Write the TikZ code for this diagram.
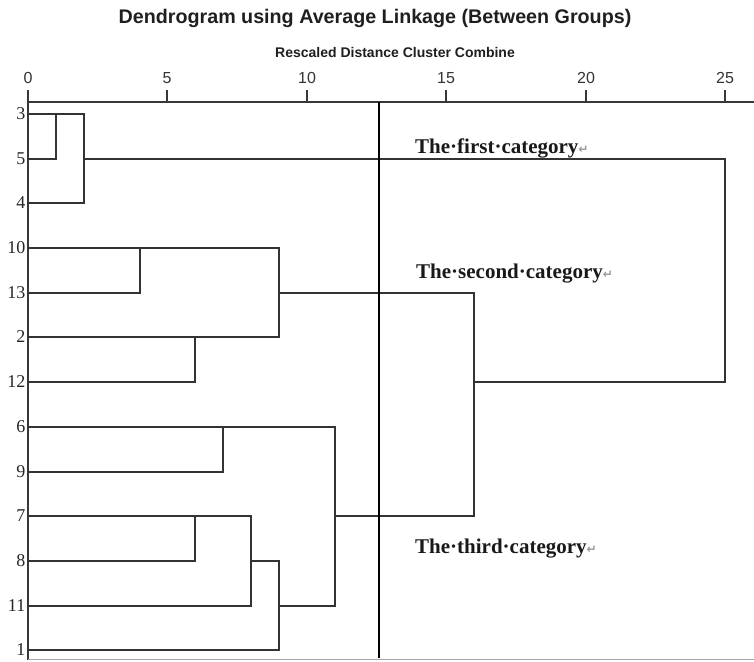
\documentclass[tikz,border=0pt]{standalone}
\usepackage{fontspec}
\setmainfont{Liberation Serif}
\setsansfont{Liberation Sans}
\newfontfamily\retfont{DejaVu Sans}
\newcommand{\retsign}{\textcolor{black!40}{\retfont\fontsize{12}{12}\selectfont ↵}}
\begin{document}
\begin{tikzpicture}[x=1pt,y=-1pt,
  link/.style={draw=black!80,line width=1.7pt,line cap=rect},
  axisline/.style={draw=black!78,line width=1.7pt},
  cutline/.style={draw=black,line width=2.5pt},
  leaflabel/.style={anchor=east,inner sep=0pt,font=\fontsize{18}{18}\selectfont,text=black!85},
  ticklabel/.style={anchor=base,inner sep=0pt,font=\sffamily\fontsize{16}{16}\selectfont,text=black!80},
  catlabel/.style={anchor=base west,inner sep=0pt,font=\bfseries\fontsize{21}{21}\selectfont,text=black!90}
]
\useasboundingbox (0,0) rectangle (754,661);

% titles
\node[anchor=base,inner sep=0pt,font=\sffamily\bfseries\fontsize{19.7}{20}\selectfont,text=black!88]
  (title) at (375,24) {Dendrogram using Average Linkage (Between Groups)};
\node[anchor=base,inner sep=0pt,font=\sffamily\bfseries\fontsize{14}{14}\selectfont,text=black!88]
  (subtitle) at (395,58) {Rescaled Distance Cluster Combine};

% distance positions on the scale (snapped to whole units)
\foreach \d in {0,1,2,4,5,6,7,8,9,10,11,15,16,20,25}
  \coordinate (x\d) at ({round(28+27.9*\d)},102);

% axis with ticks
\coordinate (axisend) at (754,102);
\draw[axisline] (x0) -- (axisend);
\foreach \d in {0,5,10,15,20,25} {
  \draw[axisline] (x\d) -- ++(0,-12);
  \node[ticklabel] (t\d) at ([yshift=19pt]x\d) {\d};
}

% leaf rows
\foreach \n [count=\i from 0] in {3,5,4,10,13,2,12,6,9,7,8,11,1} {
  \coordinate (r\n) at (28,{round(114+44.7*\i)});
  \node[leaflabel] (lab\n) at (25.5,{round(114+44.7*\i)}) {\n};
}

% left frame line and bottom rule
\coordinate (lefttop) at (28,90);
\coordinate (leftbot) at (28,659.5);
\coordinate (botend) at (754,659.5);
\draw[axisline] (lefttop) -- (leftbot);
\draw[draw=black!35,line width=1pt] (leftbot) -- (botend);

% cluster 3,5,4
\draw[link] (r3) -- (r3 -| x2);
\draw[link] (r5) -- (r5 -| x1) -- (r3 -| x1);
\draw[link] (r4) -- (r4 -| x2) -- (r3 -| x2);
\draw[link] (r5 -| x2) -- (r5 -| x25);

% cluster 10,13,2,12
\draw[link] (r10) -- (r10 -| x9);
\draw[link] (r13) -- (r13 -| x4) -- (r10 -| x4);
\draw[link] (r2) -- (r2 -| x9) -- (r10 -| x9);
\draw[link] (r12) -- (r12 -| x6) -- (r2 -| x6);
\draw[link] (r13 -| x9) -- (r13 -| x16);

% cluster 6,9,7,8,11,1
\draw[link] (r6) -- (r6 -| x11) -- (r11 -| x11);
\draw[link] (r9) -- (r9 -| x7) -- (r6 -| x7);
\draw[link] (r7) -- (r7 -| x8);
\draw[link] (r8) -- (r8 -| x6) -- (r7 -| x6);
\draw[link] (r11) -- (r11 -| x8) -- (r7 -| x8);
\draw[link] (r8 -| x8) -- (r8 -| x9);
\draw[link] (r1) -- (r1 -| x9) -- (r8 -| x9);
\draw[link] (r11 -| x9) -- (r11 -| x11);
\draw[link] (r7 -| x11) -- (r7 -| x16);

% upper joins
\draw[link] (r13 -| x16) -- (r7 -| x16);
\draw[link] (r12 -| x16) -- (r12 -| x25);
\draw[link] (r5 -| x25) -- (r12 -| x25);

% cut line
\coordinate (cuttop) at (379,102);
\coordinate (cutbot) at (379,657.5);
\draw[cutline] (cuttop) -- (cutbot);

% category labels
\node[catlabel] (cat1) at (415,153) {The·first·category\retsign};
\node[catlabel] (cat2) at (416,278) {The·second·category\retsign};
\node[catlabel] (cat3) at (415,553) {The·third·category\retsign};
\end{tikzpicture}
\end{document}
